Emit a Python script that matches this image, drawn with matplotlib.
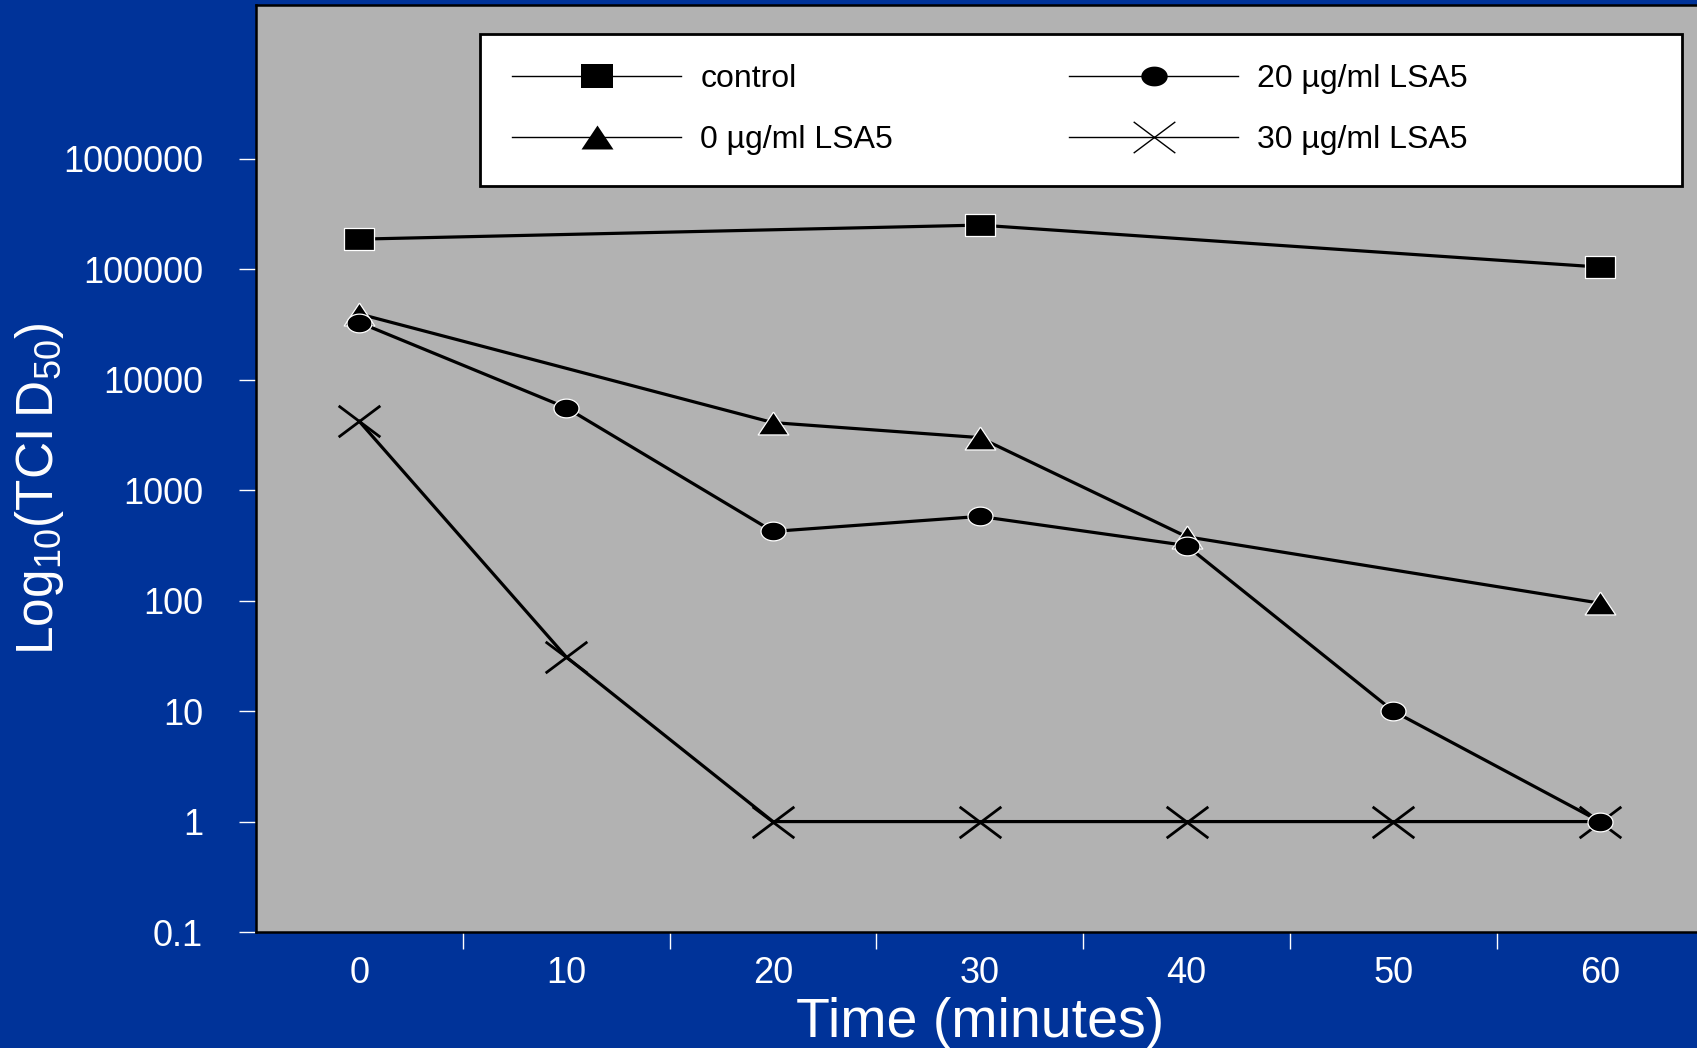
#!/usr/bin/env python3
import numpy as np
import matplotlib
matplotlib.use("Agg")
import matplotlib.pyplot as plt
from matplotlib.path import Path
from matplotlib.lines import Line2D
from matplotlib.patches import Rectangle

# время, мин
times = [0, 10, 20, 30, 40, 50, 60]

control_t = [0, 30, 60]
control = [1.88e5, 2.52e5, 1.05e5]

lsa0_t = [0, 20, 30, 40, 60]
lsa0 = [3.95e4, 4.1e3, 3.0e3, 3.8e2, 95]

lsa20 = [3.3e4, 5.6e3, 4.24e2, 5.8e2, 3.16e2, 10, 1]
lsa30 = [4.2e3, 31, 1, 1, 1, 1, 1]

labels = ["control", "0 \u00b5g/ml LSA5", "20 \u00b5g/ml LSA5", "30 \u00b5g/ml LSA5"]

ytick_vals = [0.1, 1, 10, 100, 1000, 10000, 100000, 1000000]
ytick_labels = ["0.1", "1", "10", "100", "1000", "10000", "100000", "1000000"]

BLUE = "#003399"
GRAY = "#B2B2B2"
W, H = 1697, 1048


def squashed(verts, codes=None, aspect=0.75):
    # маркеры на слайде растянуты по горизонтали
    v = np.array(verts, dtype=float)
    v[:, 1] *= aspect
    return Path(v, codes)


def make_markers():
    t = np.linspace(0, 2 * np.pi, 60)
    circle = squashed(np.column_stack([np.cos(t), np.sin(t)]))
    square = squashed([(-1, -1), (1, -1), (1, 1), (-1, 1), (-1, -1)])
    tri = squashed([(0, 1), (-1, -1), (1, -1), (0, 1)])
    cross = squashed([(-1, -1), (1, 1), (-1, 1), (1, -1)],
                     [Path.MOVETO, Path.LINETO, Path.MOVETO, Path.LINETO])
    return square, tri, circle, cross


def main():
    plt.rcParams["font.family"] = ["Liberation Sans", "DejaVu Sans"]
    plt.rcParams["mathtext.fontset"] = "custom"
    plt.rcParams["mathtext.rm"] = "Liberation Sans"

    fig = plt.figure(figsize=(W / 100, H / 100), dpi=100, facecolor=BLUE)
    ax = fig.add_axes([256 / W, 1 - 932 / H, 1447.5 / W, 927 / H])
    ax.set_facecolor(GRAY)

    square, tri, circle, cross = make_markers()

    lw = 2.3
    ax.plot(control_t, control, color="black", lw=lw, marker=square, ms=22,
            mfc="black", mec="white", mew=0.9, zorder=3)
    ax.plot(lsa0_t, lsa0, color="black", lw=lw, marker=tri, ms=22,
            mfc="black", mec="white", mew=0.9, zorder=3)
    ax.plot(times, lsa30, color="black", lw=lw, marker=cross, ms=30,
            mfc="none", mec="black", mew=2.0, zorder=3)
    ax.plot(times, lsa20, color="black", lw=lw, marker=circle, ms=18,
            mfc="black", mec="white", mew=0.9, zorder=4)

    ax.set_yscale("log")
    ax.set_ylim(0.1, 2.48e7)
    ax.set_xlim(-5, 65)

    ax.set_yticks(ytick_vals)
    ax.set_yticklabels(ytick_labels)
    ax.yaxis.set_minor_locator(plt.NullLocator())
    ax.tick_params(axis="y", which="major", colors="white", length=12,
                   width=1, direction="out", pad=26, labelsize=26)

    ax.set_xticks(times)
    ax.set_xticklabels([str(t) for t in times])
    ax.set_xticks([5, 15, 25, 35, 45, 55], minor=True)
    ax.tick_params(axis="x", which="major", length=0, pad=17,
                   labelsize=26, labelcolor="white")
    ax.tick_params(axis="x", which="minor", colors="white", length=12,
                   width=1, direction="out")

    for side in ["left", "bottom", "top"]:
        ax.spines[side].set_color("black")
        ax.spines[side].set_linewidth(1.8)
    ax.spines["right"].set_visible(False)

    ax.set_xlabel("Time (minutes)", color="white", fontsize=40)
    ax.xaxis.set_label_coords(0.5, -0.070)
    ax.set_ylabel("Log$_{\\mathregular{10}}$(TCI\u2009D$_{\\mathregular{50}}$)",
                  color="white", fontsize=37)
    ax.yaxis.set_label_coords(-0.131, 0.478)

    # рамка легенды
    box = Rectangle((480 / W, 1 - 186 / H), 1202 / W, 152 / H,
                    transform=fig.transFigure, facecolor="white",
                    edgecolor="black", linewidth=2, zorder=5)
    fig.patches.append(box)

    handles = [
        Line2D([], [], color="black", lw=1, marker=square, ms=23,
               mfc="black", mec="black", mew=0),
        Line2D([], [], color="black", lw=1, marker=tri, ms=23,
               mfc="black", mec="black", mew=0),
        Line2D([], [], color="black", lw=1, marker=circle, ms=19,
               mfc="black", mec="black", mew=0),
        Line2D([], [], color="black", lw=1, marker=cross, ms=30,
               mfc="none", mec="black", mew=1),
    ]
    leg = fig.legend(handles, labels, ncol=2, loc="upper left",
                     bbox_to_anchor=(512 / W, 1 - 64 / H),
                     bbox_transform=fig.transFigure, frameon=False,
                     fontsize=23, handlelength=5.3, handletextpad=0.6,
                     columnspacing=5.5, labelspacing=0.98, borderpad=0,
                     borderaxespad=0)
    leg.set_zorder(6)

    fig.savefig("out.png", dpi=100, facecolor=BLUE)
    plt.close(fig)


if __name__ == "__main__":
    main()
